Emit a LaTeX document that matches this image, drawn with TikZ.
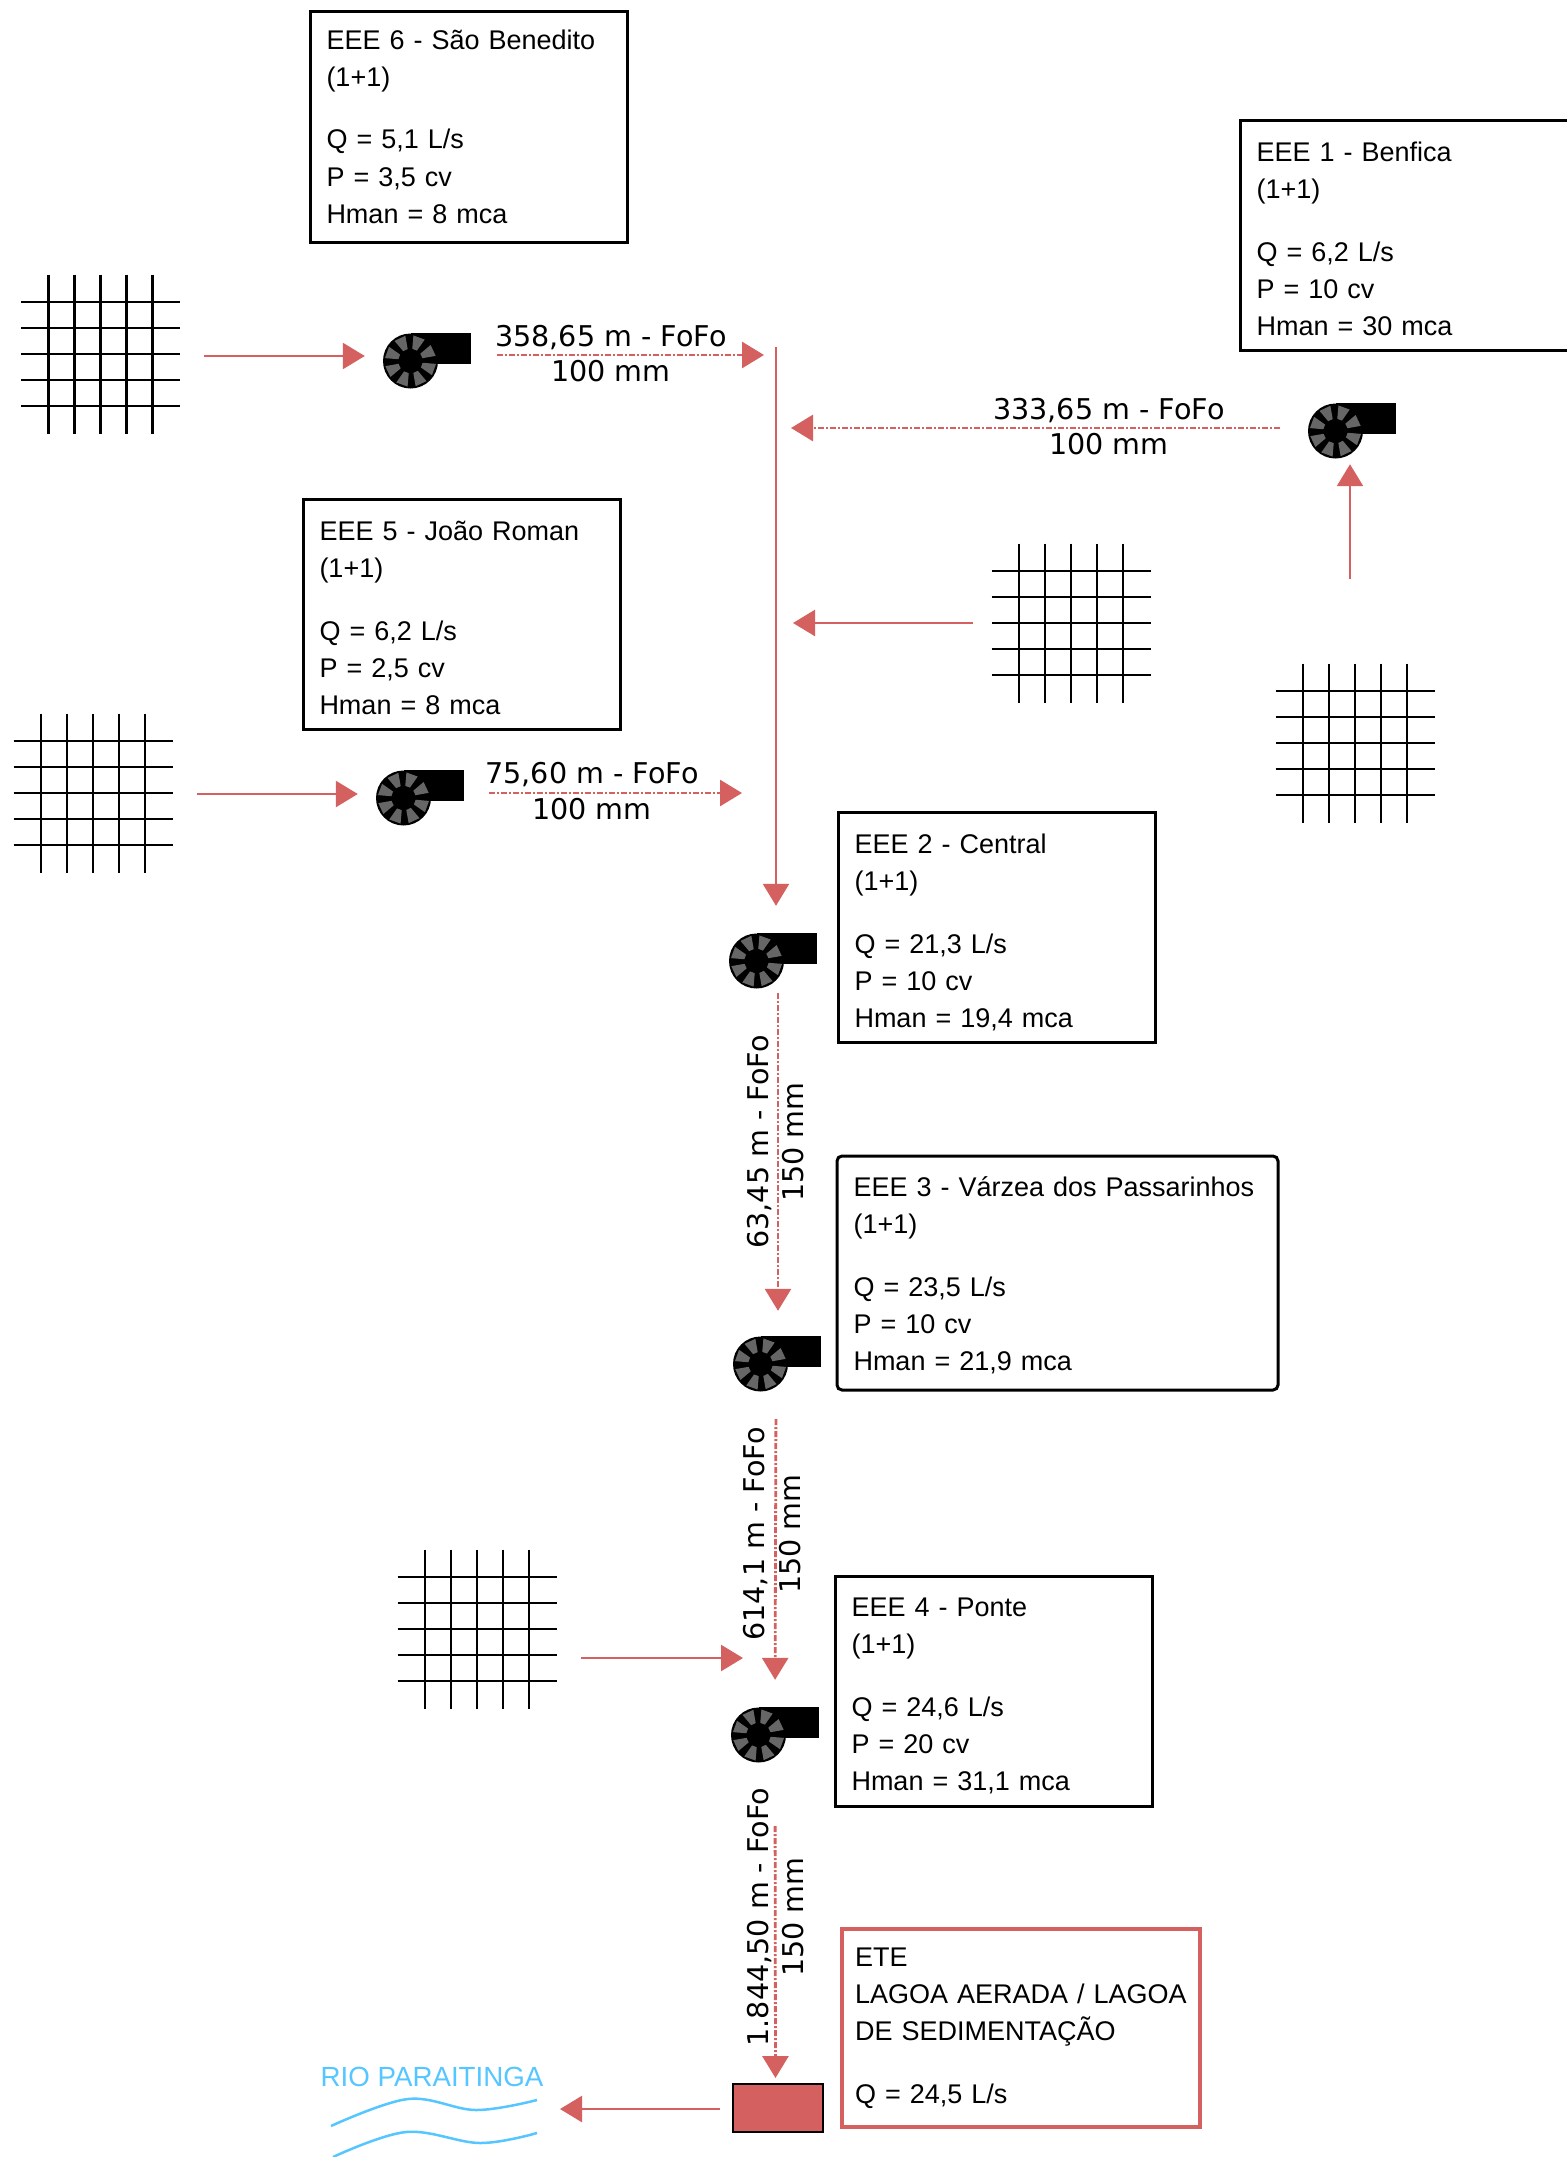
\documentclass[tikz,border=0pt]{standalone}
\usepackage{fontspec}
\setmainfont{Liberation Sans}
\newfontfamily\pipefont{DejaVu Sans}
\usetikzlibrary{arrows.meta}
\definecolor{pipered}{HTML}{D46060}
\definecolor{riverblue}{HTML}{55C6FF}

\begin{document}
\begin{tikzpicture}[
    x=1pt, y=-1pt,
    font=\fontsize{27}{37}\selectfont,
    box/.style={draw, line width=3pt, align=left, outer sep=0pt, inner xsep=16.5pt, inner ysep=0pt,
                text height=27pt, text depth=174pt, minimum height=230pt},
    flow/.style={-{Triangle[length=22pt,width=26pt]}, pipered, line width=2.5pt},
    pipe/.style={flow, line width=2.8pt, dash pattern=on 6pt off 2pt on 2pt off 2pt},
    pipelabel/.style={font=\pipefont\fontsize{28.6}{34}\selectfont, inner sep=0pt,
                      text height=21pt, text depth=0pt},
    gridnode/.style={inner sep=0pt, minimum size=159pt},
    pumpnode/.style={inner sep=0pt, minimum width=89pt, minimum height=56pt},
    pics/sewergrid/.style={code={
      \foreach \k in {-52,-26,0,26,52} {
        \draw[line width=2.8pt] (\k,-79.5) -- (\k,79.5);
        \draw[line width=2.8pt] (-79.5,\k) -- (79.5,\k);
      }
    }},
    pics/pumpicon/.style={code={
      \fill[black] (-16,0) circle (27.5pt);
      \fill[black] (-16,-28) rectangle (44.5,3);
      \foreach \a in {70,25,-20,-65,-110,-155,160,115}
        \fill[black!60, shift={(-16,0)}, rotate=\a] (12,-2.5) -- (25,-6) -- (25,6) -- (12,2.5) -- cycle;
    }},
  ]
  \useasboundingbox (0,0) rectangle (1566,2157);

  % ---------- station boxes ----------
  \node[box, text width=284pt, text height=18pt, anchor=north west] (eee6) at (310,12)
    {EEE 6 - São Benedito\\(1+1)\\[26pt]Q = 5,1 L/s\\P = 3,5 cv\\Hman = 8 mca};
  \node[box, text width=317pt, anchor=north west] (eee1) at (1240,120)
    {EEE 1 - Benfica\\(1+1)\\[26pt]Q = 6,2 L/s\\P = 10 cv\\Hman = 30 mca};
  \node[box, text width=284pt, anchor=north west] (eee5) at (303,499)
    {EEE 5 - João Roman\\(1+1)\\[26pt]Q = 6,2 L/s\\P = 2,5 cv\\Hman = 8 mca};
  \node[box, text width=284pt, anchor=north west] (eee2) at (838,812)
    {EEE 2 - Central\\(1+1)\\[26pt]Q = 21,3 L/s\\P = 10 cv\\Hman = 19,4 mca};
  \node[box, rounded corners=5pt, text width=408pt, text height=20pt, minimum height=234pt, anchor=north west] (eee3) at (837,1156)
    {EEE 3 - Várzea dos Passarinhos\\(1+1)\\[26pt]Q = 23,5 L/s\\P = 10 cv\\Hman = 21,9 mca};
  \node[box, text width=284pt, text height=24pt, anchor=north west] (eee4) at (835,1576)
    {EEE 4 - Ponte\\(1+1)\\[26pt]Q = 24,6 L/s\\P = 20 cv\\Hman = 31,1 mca};
  \node[box, draw=pipered, line width=4.5pt, inner xsep=13pt, text width=332pt, text height=14pt, text depth=137pt, minimum height=198pt, anchor=north west] (ete) at (842,1929)
    {ETE\\\mbox{LAGOA AERADA / LAGOA}\\DE SEDIMENTAÇÃO\\[26pt]Q = 24,5 L/s};

  % ---------- contribution areas ----------
  \node[gridnode] (grid6) at (100.5,354) {};
  \node[gridnode] (grid5) at (93,793) {};
  \node[gridnode] (gridmain) at (1071,623) {};
  \node[gridnode] (grid1) at (1355,743) {};
  \node[gridnode] (grid4) at (477,1629) {};
  \foreach \g in {grid6,grid5,gridmain,grid1,grid4}
    \pic at (\g) {sewergrid};

  % ---------- pumps ----------
  \node[pumpnode] (pump6) at (426.5,361) {};
  \node[pumpnode] (pump1) at (1351.5,431) {};
  \node[pumpnode] (pump5) at (419.5,798) {};
  \node[pumpnode] (pump2) at (772.5,961) {};
  \node[pumpnode] (pump3) at (776.5,1364) {};
  \node[pumpnode] (pump4) at (774.5,1735) {};
  \foreach \p in {pump6,pump1,pump5,pump2,pump3,pump4}
    \pic at (\p) {pumpicon};

  % ---------- treatment tank and river ----------
  \node[draw, line width=2.5pt, fill=pipered, outer sep=0pt, inner sep=0pt, minimum width=90pt, minimum height=48pt] (tank) at (778,2108) {};
  \node[text=riverblue, font=\fontsize{27.7}{37}\selectfont, inner sep=0pt] (rio) at (432,2077) {RIO PARAITINGA};
  \draw[riverblue, line width=2.5pt] plot[smooth, tension=0.6] coordinates {(331,2126) (408,2099) (476,2110) (537,2100)};
  \draw[riverblue, line width=2.5pt] plot[smooth, tension=0.6] coordinates {(333,2157) (406,2132) (480,2143) (537,2133)};

  % ---------- collector line ----------
  \coordinate (maintop) at (776,347);
  \coordinate (main6) at (776,355);
  \coordinate (main1) at (776,428);
  \coordinate (maingrid) at (776,623);
  \coordinate (main5) at (776,793);
  \coordinate (inlet4) at (775,1658);
  \coordinate (river) at (537,2109);
  \draw[flow, shorten >=27pt] (maintop) -- ([xshift=3.5pt]pump2.north);

  % ---------- gravity inflows ----------
  \draw[flow, shorten <=24pt, shorten >=17pt] ([yshift=-2pt]grid6.east) -- ([yshift=5pt]pump6.west);
  \draw[flow, shorten <=24.5pt, shorten >=17pt] ([yshift=-1pt]grid5.east) -- ([yshift=4pt]pump5.west);
  \draw[flow, shorten <=18.5pt, shorten >=17pt] (gridmain.west) -- (maingrid);
  \draw[flow, shorten <=84.5pt, shorten >=5pt] ([xshift=-5pt]grid1.north) -- ([xshift=-1.5pt]pump1.south);
  \draw[flow, shorten <=24.5pt, shorten >=32pt] ([yshift=-29pt]grid4.east) -- (inlet4);
  \draw[flow, shorten <=13.5pt, shorten >=23pt] ([yshift=-1pt]tank.west) -- (river);

  % ---------- force mains ----------
  \draw[pipe, shorten <=26pt, shorten >=12pt] ([yshift=6pt]pump6.east) -- (main6);
  \draw[pipe, shorten <=27pt, shorten >=15pt] ([yshift=3pt]pump1.west) -- (main1);
  \draw[pipe, shorten <=25pt, shorten >=34pt] ([yshift=5pt]pump5.east) -- (main5);
  \draw[pipe, shorten <=4pt, shorten >=25pt] ([xshift=5.5pt]pump2.south) -- ([xshift=1.5pt]pump3.north);
  \draw[pipe, shorten <=27pt, shorten >=27pt] ([xshift=-0.5pt]pump3.south) -- ([xshift=0.5pt]pump4.north);
  \draw[pipe, shorten <=63pt, shorten >=6pt] ([xshift=0.5pt]pump4.south) -- ([xshift=-2.5pt]tank.north);

  % ---------- pipe labels ----------
  \node[pipelabel] (len6) at (611,336) {358,65 m - FoFo};
  \node[pipelabel] (dia6) at (611,371) {100 mm};
  \node[pipelabel] (len1) at (1109,409) {333,65 m - FoFo};
  \node[pipelabel] (dia1) at (1109,444) {100 mm};
  \node[pipelabel] (len5) at (592,773) {75,60 m - FoFo};
  \node[pipelabel] (dia5) at (592,809) {100 mm};
  \node[pipelabel, rotate=90] (len2) at (758,1142) {63,45 m - FoFo};
  \node[pipelabel, rotate=90] (dia2) at (793,1142) {150 mm};
  \node[pipelabel, rotate=90] (len3) at (754,1534) {614,1 m - FoFo};
  \node[pipelabel, rotate=90] (dia3) at (790,1534) {150 mm};
  \node[pipelabel, rotate=90] (len4) at (758,1917) {1.844,50 m - FoFo};
  \node[pipelabel, rotate=90] (dia4) at (793,1917) {150 mm};

\end{tikzpicture}
\end{document}
